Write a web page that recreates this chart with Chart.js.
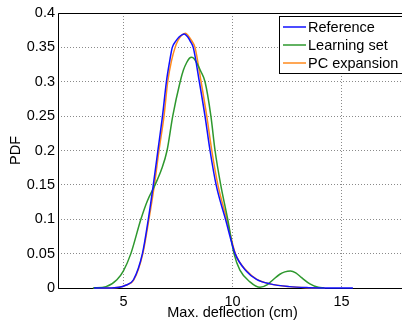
<!DOCTYPE html>
<html><head><meta charset="utf-8">
<script src="https://cdn.jsdelivr.net/npm/chart.js@4/dist/chart.umd.min.js"></script>
<style>
html,body{margin:0;padding:0;background:#fff;overflow:hidden;width:402px;height:321px}
#wrap{position:relative;width:420px;height:321px}
</style>
</head><body><div id="wrap"><canvas id="c" width="420" height="321"></canvas></div>
<script>
// Reference PDF
const refX = [3.65, 4.3, 4.8, 5.1, 5.46, 5.87, 6.14, 6.37, 6.58, 6.79, 6.97, 7.12, 7.24, 7.4, 7.55, 7.7, 7.79, 7.95, 8.08, 8.2, 8.48, 8.74, 8.97, 9.25, 9.68, 10.12, 10.65, 11.1, 11.72, 12.6, 13.5, 14.5, 15.52];
const refY = [0, 0, 0.001, 0.004, 0.012, 0.05, 0.1, 0.15, 0.2, 0.25, 0.3, 0.33, 0.35, 0.359, 0.365, 0.3685, 0.3695, 0.365, 0.358, 0.35, 0.3, 0.25, 0.2, 0.15, 0.1, 0.05, 0.024, 0.0126, 0.006, 0.002, 0.0005, 0, 0];
// Learning set PDF
const learnX = [3.6, 4.2, 4.7, 5.0, 5.34, 5.8, 6.1, 6.45, 6.75, 7.0, 7.26, 7.6, 7.75, 7.9, 8.02, 8.13, 8.25, 8.4, 8.55, 8.74, 9.01, 9.2, 9.46, 9.78, 10.07, 10.34, 10.8, 11.26, 11.6, 11.86, 12.17, 12.4, 12.66, 12.9, 13.17, 13.55, 13.93, 14.2];
const learnY = [0, 0.002, 0.012, 0.025, 0.05, 0.1, 0.127, 0.15, 0.173, 0.2, 0.25, 0.3, 0.317, 0.328, 0.334, 0.3355, 0.333, 0.325, 0.315, 0.3, 0.25, 0.2, 0.15, 0.1, 0.05, 0.026, 0.009, 0.001, 0.005, 0.012, 0.02, 0.0235, 0.0248, 0.022, 0.015, 0.006, 0.001, 0];
// PC expansion PDF
const pcX = [3.65, 4.3, 4.8, 5.1, 5.48, 5.89, 6.17, 6.42, 6.63, 6.86, 7.03, 7.2, 7.37, 7.5, 7.65, 7.84, 7.97, 8.12, 8.28, 8.56, 8.82, 9.05, 9.33, 9.74, 10.13, 10.65, 11.1, 11.72, 12.6, 13.4, 14.23];
const pcY = [0, 0, 0.001, 0.004, 0.012, 0.05, 0.1, 0.15, 0.2, 0.25, 0.3, 0.33, 0.35, 0.36, 0.367, 0.3704, 0.367, 0.36, 0.35, 0.3, 0.25, 0.2, 0.15, 0.1, 0.05, 0.025, 0.013, 0.006, 0.002, 0.0005, 0];

const seriesNames = ['Reference', 'Learning set', 'PC expansion'];
const xTicks = [5, 10, 15];
const yTicks = [0, 0.05, 0.1, 0.15, 0.2, 0.25, 0.3, 0.35, 0.4];
const xTitle = 'Max. deflection (cm)';
const yTitle = 'PDF';

const FONT = "'Liberation Sans', Arial, Helvetica, sans-serif";
const colors = ['#1010ff', '#2e982e', '#ff8a1c'];

function pts(xs, ys){ return xs.map((x,i)=>({x:x, y:ys[i]})); }

const frame = {
  id:'frame',
  beforeDatasetsDraw(chart){
    const {ctx, chartArea:a} = chart;
    ctx.save();
    ctx.strokeStyle = '#000'; ctx.lineWidth = 1;
    ctx.beginPath();
    ctx.moveTo(Math.round(a.left)+0.5, Math.round(a.bottom)+0.5);
    ctx.lineTo(Math.round(a.left)+0.5, Math.round(a.top)+0.5);
    ctx.lineTo(Math.round(a.right)+0.5, Math.round(a.top)+0.5);
    ctx.lineTo(Math.round(a.right)+0.5, Math.round(a.bottom)+0.5);
    ctx.closePath();
    ctx.stroke();
    ctx.restore();
  }
};

const boxLegend = {
  id:'boxLegend',
  afterDatasetsDraw(chart){
    const {ctx, chartArea:a} = chart;
    const left = Math.round(a.right) - 128, top = Math.round(a.top) + 3;
    const w = 125, h = 57;
    ctx.save();
    ctx.fillStyle = '#fff';
    ctx.fillRect(left, top, w, h);
    ctx.strokeStyle = '#000'; ctx.lineWidth = 1;
    ctx.strokeRect(left+0.5, top+0.5, w, h);
    ctx.font = '14.5px ' + FONT;
    ctx.textBaseline = 'middle';
    ctx.fillStyle = '#000';
    chart.data.datasets.forEach((ds,i)=>{
      const y = top + 11 + i*18;
      ctx.strokeStyle = ds.borderColor; ctx.lineWidth = 1.5;
      ctx.beginPath(); ctx.moveTo(left+4, y); ctx.lineTo(left+27, y); ctx.stroke();
      ctx.fillText(ds.label, left+29, y+1);
    });
    ctx.restore();
  }
};

new Chart(document.getElementById('c'), {
  type:'line',
  data:{
    datasets:[
      {label:seriesNames[0], data:pts(refX, refY), borderColor:colors[0]},
      {label:seriesNames[1], data:pts(learnX, learnY), borderColor:colors[1]},
      {label:seriesNames[2], data:pts(pcX, pcY), borderColor:colors[2]}
    ].map(d=>Object.assign(d,{borderWidth:1.5, pointRadius:0, fill:false, cubicInterpolationMode:'monotone', clip:false}))
  },
  options:{
    responsive:false, animation:false, devicePixelRatio:1,
    layout:{padding:{left:0, top:13, right:13, bottom:0}},
    plugins:{legend:{display:false}, tooltip:{enabled:false}},
    scales:{
      x:{type:'linear', min:2, max:18,
        afterBuildTicks(s){ s.ticks = xTicks.map(v=>({value:v})); },
        afterFit(s){ s.height = 33; },
        ticks:{color:'#000', padding:5, font:{family:FONT, size:14.5}, maxRotation:0, callback:v=>String(v)},
        grid:{color:'#8a8a8a', lineWidth:1, drawTicks:false},
        border:{display:false, dash:[1,2]},
        title:{display:true, text:xTitle, color:'#000', font:{family:FONT, size:14.5}, padding:{top:0,bottom:-1}}
      },
      y:{type:'linear', min:0, max:0.4,
        afterBuildTicks(s){ s.ticks = yTicks.map(v=>({value:v})); },
        afterFit(s){ s.width = 58; },
        ticks:{color:'#000', padding:3, font:{family:FONT, size:14.5}, callback:v=>String(+v.toFixed(2))},
        grid:{color:'#8a8a8a', lineWidth:1, drawTicks:false},
        border:{display:false, dash:[1,2]},
        title:{display:true, text:yTitle, color:'#000', font:{family:FONT, size:14.5}, padding:{top:7,bottom:0}}
      }
    }
  },
  plugins:[frame, boxLegend]
});
</script>
</body></html>
